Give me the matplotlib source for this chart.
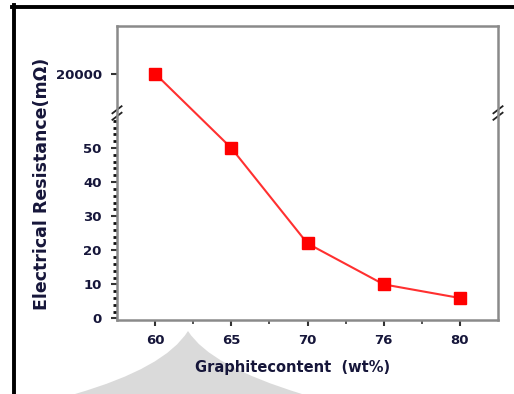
import matplotlib.pyplot as plt
import numpy as np
from matplotlib.path import Path
from matplotlib.patches import PathPatch
from matplotlib.lines import Line2D
from matplotlib.ticker import FixedLocator

plt.rcParams['font.family'] = ['DejaVu Sans']
plt.rcParams['font.weight'] = 'bold'

# data
graphite = ['60', '65', '70', '76', '80']
resistance = [20000, 50, 22, 10, 6]
ytick_vals = [0, 10, 20, 30, 40, 50, 20000]

# broken y axis: lower part 0..60, upper part around 20000
lo_top = 60.4
hi_bot = 19955.0
k = 0.254

def fwd(y):
    y = np.asarray(y, dtype=float)
    return np.where(y <= lo_top, y, lo_top + np.clip(y - hi_bot, 0, None) * k)

def inv(u):
    u = np.asarray(u, dtype=float)
    return np.where(u <= lo_top, u, hi_bot + (u - lo_top) / k)

txt = '#16163a'
spine_c = '#8a8a8a'

fig = plt.figure(figsize=(5.14, 3.94), dpi=100)
ax = fig.add_axes([117/514, 1 - 320/394, 381/514, 294/394])

ax.plot(graphite, resistance, color='#ff3030', lw=1.5, marker='s',
        markersize=8, markerfacecolor='#ff0000', markeredgecolor='#ff0000',
        clip_on=False)

ax.set_yscale('function', functions=(fwd, inv))
ax.set_ylim(-0.45, 20055)
ax.set_xlim(-0.5, 4.5)

ax.yaxis.set_major_locator(FixedLocator(ytick_vals))
ax.set_yticklabels([str(v) for v in ytick_vals])
ax.yaxis.set_minor_locator(FixedLocator(list(np.arange(0, 60, 2))))
ax.xaxis.set_minor_locator(FixedLocator([0.5, 1.5, 2.5, 3.5]))

for s in ax.spines.values():
    s.set_color(spine_c)
    s.set_linewidth(1.8)

ax.tick_params(axis='both', which='major', direction='out', length=4,
               width=1.5, color='#333333', labelsize=9.5, labelcolor=txt)
ax.tick_params(axis='y', which='major', pad=7)
ax.tick_params(axis='y', which='minor', direction='out', length=3,
               width=2.0, color='#111111')
ax.tick_params(axis='x', which='minor', direction='out', length=3,
               width=1.2, color='#333333')
ax.tick_params(axis='x', pad=6)

ax.set_xlabel('Graphitecontent  (wt%)', fontsize=10.5, fontweight='bold',
              color=txt, labelpad=7)
ax.xaxis.set_label_coords((293 - 117) / 381, -0.135)
ax.set_ylabel('Electrical Resistance(m\u03a9)', fontsize=12.5,
              fontweight='bold', color=txt)
ax.yaxis.set_label_coords(-0.173, (320 - 184) / 294)

# break marks on both vertical spines
bpos = (320 - 113) / 294
for xs in (0, 1):
    for dy in (-0.011, 0.011):
        ax.plot([xs - 0.012, xs + 0.012], [bpos + dy - 0.012, bpos + dy + 0.012],
                transform=ax.transAxes, color='#222222', lw=1.3, clip_on=False)

# page decoration: black frame edges and gray shadow shape
def fx(x):
    return x / 514

def fy(y):
    return 1 - y / 394

fig.add_artist(Line2D([fx(12), 1], [fy(6.5), fy(6.5)], color='black', lw=2.8,
                      transform=fig.transFigure))
fig.add_artist(Line2D([fx(13.5), fx(13.5)], [fy(5), 0], color='black', lw=2.8,
                      transform=fig.transFigure))

verts = [(75, 394), (165, 368), (188, 331), (210, 366), (302, 394), (75, 394)]
codes = [Path.MOVETO, Path.CURVE3, Path.CURVE3, Path.CURVE3, Path.CURVE3,
         Path.CLOSEPOLY]
shadow = Path([(fx(x), fy(y)) for x, y in verts], codes)
fig.add_artist(PathPatch(shadow, facecolor='#dadada', edgecolor='none',
                         transform=fig.transFigure, zorder=-1))

fig.savefig('out.png', dpi=100)
